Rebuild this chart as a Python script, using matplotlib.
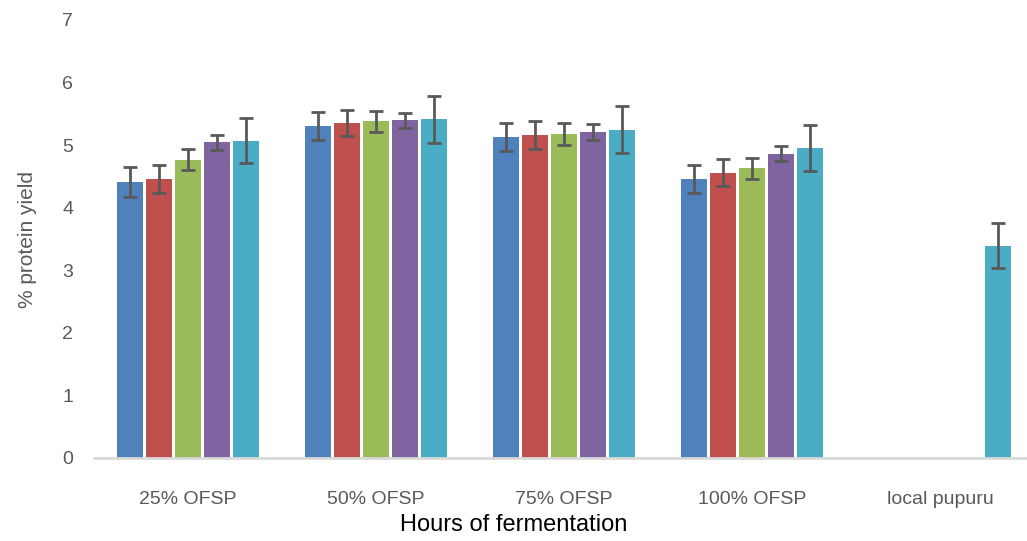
import numpy as np
import matplotlib
matplotlib.use("Agg")
import matplotlib.pyplot as plt

plt.rcParams['font.family'] = ['Liberation Sans Narrow', 'Liberation Sans', 'DejaVu Sans']

categories = ['25% OFSP', '50% OFSP', '75% OFSP', '100% OFSP', 'local pupuru']
series_colors = ['#4F81BD', '#C0504D', '#9BBB59', '#8064A2', '#4BACC6']

# protein yield per series (5 bars per group); local pupuru only has the last series
s1 = [4.41, 5.31, 5.13, 4.46, np.nan]
s2 = [4.46, 5.35, 5.16, 4.56, np.nan]
s3 = [4.77, 5.38, 5.18, 4.63, np.nan]
s4 = [5.05, 5.40, 5.21, 4.86, np.nan]
s5 = [5.07, 5.41, 5.25, 4.95, 3.39]

e1 = [0.24, 0.22, 0.23, 0.23, np.nan]
e2 = [0.22, 0.21, 0.22, 0.22, np.nan]
e3 = [0.17, 0.17, 0.17, 0.17, np.nan]
e4 = [0.12, 0.12, 0.12, 0.12, np.nan]
e5 = [0.36, 0.38, 0.37, 0.37, 0.36]

values = [s1, s2, s3, s4, s5]
errors = [e1, e2, e3, e4, e5]

fig = plt.figure(figsize=(10.27, 5.41), dpi=100)
ax = fig.add_axes([94 / 1027, 1 - 458 / 541, 940 / 1027, 438 / 541])

x = np.arange(len(categories))
step = 0.155
width = 0.138
for i, (vals, errs, col) in enumerate(zip(values, errors, series_colors)):
    pos = x + (i - 2) * step
    ax.bar(pos, vals, width=width, color=col, zorder=2)
    ax.errorbar(pos, vals, yerr=errs, fmt='none', ecolor='#595959',
                elinewidth=2, capsize=5, capthick=2, zorder=3)

ax.set_xlim(-0.5, 4.5)
ax.set_ylim(0, 7)
ax.set_yticks(range(0, 8))
ax.set_xticks(x)
ax.set_xticklabels(categories)
ax.tick_params(axis='both', length=0, labelsize=14, labelcolor='#595959')
ax.tick_params(axis='y', pad=15)
ax.tick_params(axis='x', pad=24)
for s in ['top', 'right', 'left']:
    ax.spines[s].set_visible(False)
ax.spines['bottom'].set_color('#d9d9d9')
ax.spines['bottom'].set_linewidth(2)

ax.set_ylabel('% protein yield', fontsize=15, color='#595959', labelpad=18)
fig.text(514 / 1027, 1 - 525 / 541, 'Hours of fermentation', fontsize=17,
         ha='center', va='center', color='black')

fig.savefig('out.png', dpi=100)
